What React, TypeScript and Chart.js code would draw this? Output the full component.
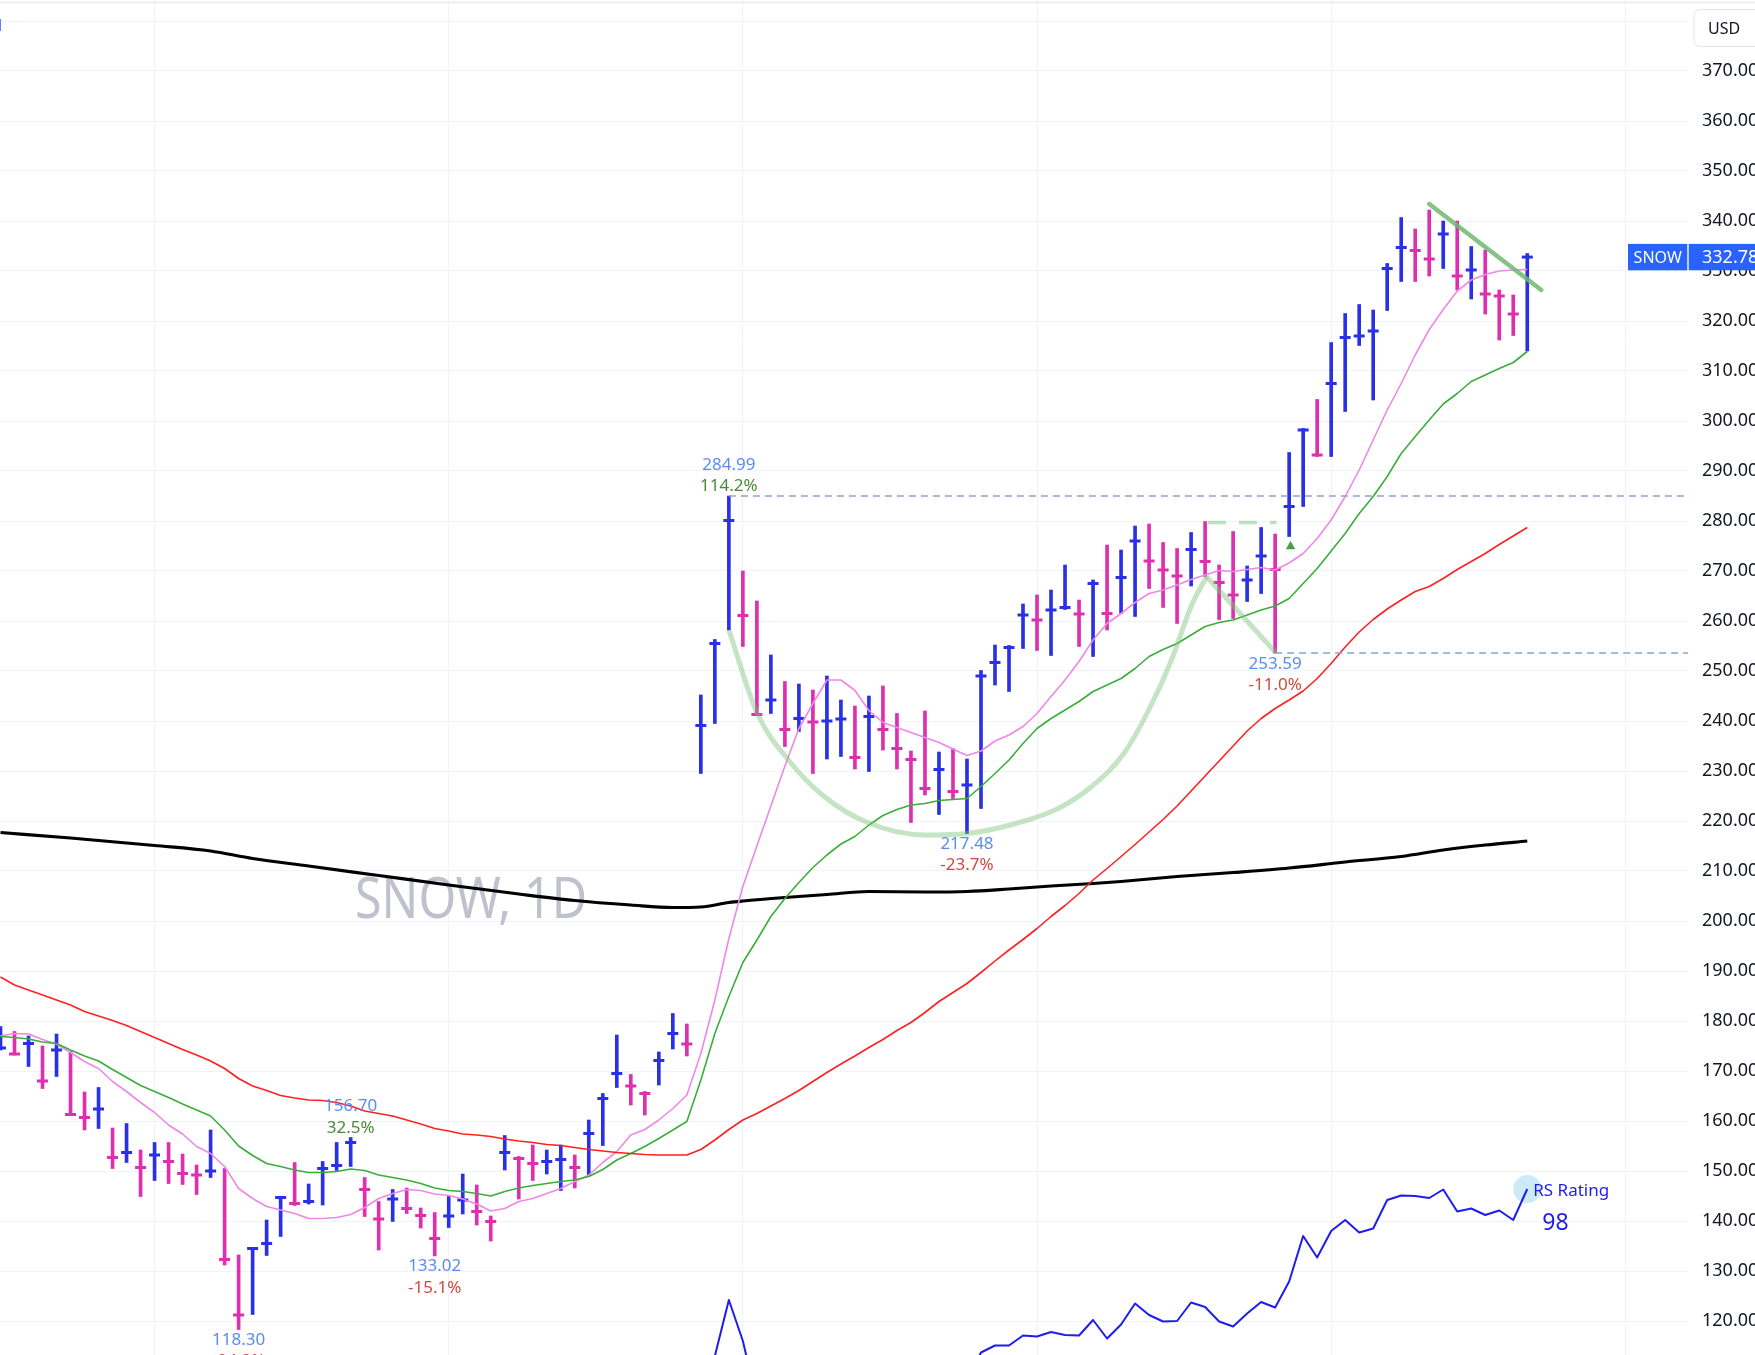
import React, { useEffect, useRef } from 'react';
import { Chart, registerables } from 'chart.js';

Chart.register(...registerables);

// ---------- data (daily bars, index = trading day) ----------
const highs = [
  178.9, 177.9, 177.0, 175.0, 177.4, 173.9, 165.8, 166.7, 158.6, 159.5,
  154.2, 155.7, 155.7, 153.4, 151.2, 158.2, 150.5, 133.2, 134.7, 140.2,
  144.9, 151.7, 147.4, 151.9, 155.7, 156.7, 148.7, 143.9, 146.3, 146.6,
  142.6, 141.7, 144.9, 149.4, 147.2, 141.0, 157.1, 152.9, 155.2, 154.2,
  155.2, 153.2, 160.2, 165.5, 177.2, 169.3, 165.9, 173.8, 181.5, 179.4,
  245.2, 256.3, 284.99, 270.0, 264.0, 253.2, 247.9, 247.4, 246.2, 249.0,
  244.2, 243.0, 245.0, 247.0, 241.5, 234.0, 242.0, 233.8, 234.5, 232.4,
  250.1, 255.2, 255.1, 263.4, 265.2, 266.2, 271.2, 264.2, 268.2, 275.2,
  274.2, 279.0, 279.4, 275.7, 274.5, 277.7, 279.9, 271.2, 277.9, 271.0,
  278.7, 277.4, 293.7, 298.5, 304.3, 315.7, 321.5, 323.3, 322.2, 331.5,
  340.7, 338.4, 342.2, 340.0, 340.0, 334.9, 334.2, 326.2, 325.2, 333.5,
];
const lows = [
  174.2, 173.2, 170.9, 166.5, 168.9, 161.2, 158.2, 158.5, 150.5, 151.7,
  144.9, 148.1, 147.5, 147.3, 145.3, 148.7, 131.2, 118.3, 121.3, 133.1,
  136.9, 143.1, 143.4, 143.2, 150.1, 150.9, 140.9, 134.2, 139.9, 141.5,
  138.6, 133.02, 138.7, 141.4, 139.2, 136.0, 150.2, 144.4, 148.1, 149.4,
  146.1, 146.6, 149.2, 155.1, 166.7, 163.2, 161.2, 167.2, 174.4, 173.0,
  229.5, 239.5, 258.2, 254.9, 241.2, 241.5, 234.9, 237.9, 229.5, 232.4,
  232.9, 230.4, 229.9, 234.2, 230.4, 219.7, 225.2, 221.3, 224.5, 217.48,
  222.5, 247.2, 245.9, 254.5, 254.1, 253.1, 262.3, 254.9, 252.9, 258.2,
  261.5, 260.9, 266.5, 262.7, 259.5, 267.0, 268.9, 260.3, 260.5, 263.9,
  265.5, 253.59, 276.9, 282.9, 292.9, 292.9, 301.9, 315.1, 304.2, 322.1,
  327.9, 327.9, 329.0, 330.5, 326.2, 324.4, 321.4, 316.2, 317.1, 314.0,
];
const closes = [
  174.6, 173.4, 175.5, 168.0, 174.2, 161.3, 160.7, 162.4, 152.7, 153.7,
  150.7, 153.2, 151.9, 149.5, 149.2, 150.0, 132.3, 121.2, 134.5, 135.5,
  144.7, 143.5, 143.9, 150.5, 151.1, 155.7, 146.3, 140.4, 144.4, 142.5,
  141.1, 136.5, 141.0, 144.2, 141.9, 139.9, 153.7, 152.5, 151.5, 151.9,
  152.3, 150.7, 157.5, 164.5, 169.5, 167.0, 165.5, 172.1, 177.5, 175.4,
  239.1, 255.5, 280.1, 261.1, 241.3, 244.2, 238.3, 240.5, 239.8, 240.0,
  240.4, 232.7, 240.9, 238.3, 234.5, 232.3, 226.5, 230.3, 225.9, 227.2,
  249.0, 251.7, 254.7, 261.2, 260.2, 262.2, 262.7, 261.4, 267.5, 261.5,
  268.7, 276.0, 272.0, 270.2, 269.0, 274.3, 271.9, 267.7, 265.2, 268.2,
  273.0, 270.3, 282.9, 298.2, 293.2, 307.5, 316.7, 317.0, 318.0, 330.5,
  334.7, 334.1, 332.4, 337.4, 329.0, 330.2, 325.4, 325.0, 321.4, 332.78,
];
// 10-day MA (pink)
const ma10 = [
  177.0, 177.5, 177.4, 176.3, 175.4, 173.7, 171.9, 170.5, 167.9, 165.9,
  163.7, 161.7, 159.2, 157.4, 154.9, 153.5, 150.9, 146.5, 144.5, 142.9,
  142.2, 141.5, 140.5, 140.5, 140.7, 141.3, 142.7, 144.5, 145.5, 146.3,
  146.1, 145.4, 145.1, 144.4, 143.4, 142.0, 142.5, 143.9, 144.5, 145.5,
  146.5, 147.9, 149.2, 151.7, 153.9, 157.2, 158.3, 160.2, 162.5, 165.2,
  173.5, 184.2, 196.5, 206.9, 215.0, 223.0, 231.0, 238.5, 243.5, 248.2,
  248.2, 246.1, 242.1, 239.7, 238.7, 237.7, 236.7, 235.7, 234.4, 233.1,
  234.0, 236.0, 237.2, 238.9, 241.5, 244.9, 248.2, 251.9, 256.2, 259.5,
  261.5, 263.7, 265.5, 266.2, 267.2, 268.3, 269.2, 270.1, 269.9, 270.3,
  270.7, 270.2, 271.6, 273.5, 276.5, 280.2, 284.9, 290.2, 296.2, 302.2,
  307.5, 313.2, 318.3, 322.3, 326.0, 328.2, 329.3, 330.0, 330.2, 330.3,
];
// 21-day MA (green)
const ma21 = [
  176.9, 176.7, 176.4, 175.8, 175.5, 174.2, 173.0, 172.0, 170.3, 168.7,
  167.1, 165.9, 164.7, 163.4, 162.2, 161.0, 158.2, 155.0, 153.1, 151.5,
  150.9, 150.2, 149.7, 149.7, 149.9, 150.4, 150.1, 149.2, 148.7, 148.2,
  147.5, 146.6, 146.1, 145.9, 145.5, 145.0, 145.9, 146.6, 147.1, 147.5,
  147.9, 148.2, 148.9, 150.3, 152.2, 153.5, 154.9, 156.5, 158.2, 159.9,
  168.2, 177.5, 184.9, 191.7, 196.2, 200.9, 204.5, 207.7, 210.7, 213.2,
  215.4, 216.9, 219.2, 221.1, 222.3, 223.2, 223.5, 224.1, 224.3, 224.5,
  226.9, 229.5, 232.2, 235.5, 238.5, 240.5, 242.2, 243.9, 245.9, 247.2,
  248.5, 250.5, 252.9, 254.3, 255.5, 257.2, 258.9, 259.7, 260.2, 261.2,
  262.2, 263.0, 264.5, 267.5, 270.5, 274.0, 277.5, 281.5, 284.9, 288.9,
  293.5, 296.9, 300.2, 303.4, 305.5, 307.9, 309.2, 310.5, 311.7, 313.9,
];
// 50-day MA (red)
const ma50 = [
  188.8, 187.2, 186.2, 185.2, 184.2, 183.2, 181.9, 181.0, 180.1, 179.1,
  177.9, 176.7, 175.5, 174.3, 173.2, 172.0, 170.5, 168.5, 167.0, 166.1,
  165.1, 164.6, 164.2, 164.1, 163.7, 163.0, 162.0, 161.5, 161.0, 160.2,
  159.4, 158.5, 158.0, 157.4, 157.2, 156.9, 156.4, 156.0, 155.7, 155.3,
  155.1, 154.7, 154.3, 154.0, 153.7, 153.5, 153.3, 153.2, 153.2, 153.2,
  154.3, 156.2, 158.3, 160.2, 161.5, 163.0, 164.5, 166.1, 167.9, 169.7,
  171.4, 173.0, 174.7, 176.3, 178.1, 179.7, 181.7, 183.9, 185.7, 187.5,
  189.7, 192.0, 194.2, 196.3, 198.5, 200.9, 203.1, 205.5, 208.2, 210.5,
  212.9, 215.3, 217.8, 220.3, 223.0, 226.0, 229.0, 232.0, 235.0, 238.0,
  240.5, 242.5, 244.2, 246.0, 248.5, 251.5, 254.8, 257.8, 260.3, 262.4,
  264.2, 265.9, 266.9, 268.5, 270.3, 271.9, 273.5, 275.3, 277.0, 278.7,
];
// 200-day MA (black), read at selected days
const ma200Days = [0, 5, 11, 15, 18, 22, 27, 32, 37, 41, 45, 48, 50, 52, 53, 56, 59, 62, 66, 69, 72, 75, 78, 80, 84, 88, 92, 96, 100, 103, 106, 109];
const ma200 = [217.7, 216.6, 215.1, 214.0, 212.5, 211.0, 209.1, 207.2, 205.4, 204.1, 203.2, 202.7, 202.8, 203.7, 204.0, 204.7, 205.3, 205.9, 205.8, 205.9, 206.4, 207.0, 207.5, 207.9, 208.9, 209.7, 210.6, 211.8, 212.9, 214.2, 215.2, 216.0];
// RS line (plotted on the price pane), null where not visible
const rsLine = [
  null, null, null, null, null, null, null, null, null, null,
  null, null, null, null, null, null, null, null, null, null,
  null, null, null, null, null, null, null, null, null, null,
  null, null, null, null, null, null, null, null, null, null,
  null, null, null, null, null, null, null, null, null, null,
  100.0, 113.0, 124.2, 116.0, 104.0, null, null, null, null, null,
  null, null, null, null, null, null, null, null, null, 108.0,
  113.7, 115.1, 115.1, 117.1, 116.9, 117.8, 117.2, 117.1, 120.2, 116.5,
  119.3, 123.5, 121.2, 119.9, 120.0, 123.7, 122.8, 119.9, 118.9, 121.5,
  123.8, 122.7, 127.9, 137.0, 132.7, 138.0, 140.2, 137.7, 138.5, 144.2,
  145.1, 145.0, 144.6, 146.3, 141.9, 142.5, 141.2, 142.1, 140.2, 146.4,
];
const rsRating = '98';

// pivot labels
const pivotDays = [17, 25, 31, 52, 69, 91];
const pivotPrices = [118.30, 156.70, 133.02, 284.99, 217.48, 253.59];
const pivotPcts = ['-24.3%', '32.5%', '-15.1%', '114.2%', '-23.7%', '-11.0%'];
const pivotIsHigh = [false, true, false, true, false, false];

// drawn pattern: cup, handle, pivot, trend line, levels
const cupDays = [52, 54, 56.4, 58.8, 61.9, 66, 69, 72.1, 75.5, 77.9, 80.2, 82.1, 83.6, 85, 86.1];
const cupPrices = [258.2, 241.7, 231.7, 224.9, 219.7, 217.2, 217.5, 219.2, 222.5, 226.9, 233.5, 242.9, 252.2, 262.9, 268.9];
const handleDays = [86.1, 91.07];
const handlePrices = [268.9, 253.6];
const pivotLineDays = [86.2, 91.1];
const pivotLinePrices = [279.7, 279.7];
const trendDays = [102.0, 110.0];
const trendPrices = [343.4, 326.2];
const levelStartDays = [52, 91];
const levelPrices = [284.99, 253.59];
const buyPointDay = 92.1;
const buyPointPrice = 274.9;

const priceTicks = [120, 130, 140, 150, 160, 170, 180, 190, 200, 210, 220, 230, 240, 250, 260, 270, 280, 290, 300, 310, 320, 330, 340, 350, 360, 370, 380];
const monthGridDays = [11, 32, 53, 74, 95, 116];
const symbol = 'SNOW';
const watermark = 'SNOW, 1D';
const currency = 'USD';

const X_MIN = -0.0357;
const X_MAX = 120.475;
const Y_MIN = 113.2;
const Y_MAX = 384.2;

const BLUE = '#2a30e6';
const MAGENTA = '#de2fae';
const FONT = "'Noto Sans', 'DejaVu Sans', sans-serif";

export default function App() {
  const ref = useRef<HTMLCanvasElement>(null);

  useEffect(() => {
    document.body.style.margin = '0';
    const canvas = ref.current!;
    Chart.defaults.font.family = FONT;
    const days = highs.map((_, i) => i);
    const barColors = closes.map((c, i) => (i === 0 || c >= closes[i - 1] ? BLUE : MAGENTA));
    const series = (arr: any[]) => arr.map((v, i) => ({ x: days[i], y: v }));
    const pairs = (xs: number[], ys: number[]) => xs.map((x, i) => ({ x, y: ys[i] }));

    const overlay = {
      id: 'overlay',
      beforeDatasetsDraw(chart: any) {
        const ctx = chart.ctx;
        ctx.save();
        ctx.font = `56px ${FONT}`;
        ctx.fillStyle = '#bfc2cc';
        ctx.textBaseline = 'alphabetic';
        ctx.textAlign = 'left';
        const w = ctx.measureText(watermark).width;
        ctx.translate(355, 918);
        ctx.scale(232 / w, 1);
        ctx.fillText(watermark, 0, 0);
        ctx.restore();
      },
      afterDatasetsDraw(chart: any) {
        const ctx = chart.ctx;
        const xs = chart.scales.x;
        const ys = chart.scales.y;
        ctx.save();
        ctx.font = `17px ${FONT}`;
        ctx.textAlign = 'center';
        ctx.textBaseline = 'alphabetic';
        pivotDays.forEach((d, i) => {
          const x = xs.getPixelForValue(d);
          const y = ys.getPixelForValue(pivotPrices[i]);
          const py = pivotIsHigh[i] ? y - 26.2 : y + 15.5;
          const pc = pivotIsHigh[i] ? y - 4.8 : y + 36.8;
          ctx.fillStyle = '#5b8def';
          ctx.fillText(pivotPrices[i].toFixed(2), x, py);
          ctx.fillStyle = pivotPcts[i].startsWith('-') ? '#d14a40' : '#4b8a3a';
          ctx.fillText(pivotPcts[i], x, pc);
        });
        // RS rating text
        const last = days.length - 1;
        const rx = xs.getPixelForValue(last);
        const ry = ys.getPixelForValue(rsLine[last] as number);
        ctx.textAlign = 'left';
        ctx.fillStyle = '#1d1df0';
        ctx.font = `17px ${FONT}`;
        ctx.fillText('RS Rating', rx + 6, ry + 7);
        ctx.font = `23px ${FONT}`;
        ctx.fillText(rsRating, rx + 15, ry + 41);
        ctx.restore();
      },
      afterDraw(chart: any) {
        const ctx = chart.ctx;
        const area = chart.chartArea;
        const ys = chart.scales.y;
        ctx.save();
        // top frame line
        ctx.fillStyle = '#eceef2';
        ctx.fillRect(0, 1.5, chart.width, 2);
        // clipped legend glyph top-left
        ctx.font = `17px ${FONT}`;
        ctx.fillStyle = '#2962ff';
        ctx.textAlign = 'left';
        ctx.fillText('M', -13, 31);
        // last price label
        const cy = ys.getPixelForValue(closes[closes.length - 1]);
        const h = 26.4;
        ctx.fillStyle = '#2962ff';
        ctx.fillRect(area.right - 60, cy - h / 2, 59.3, h);
        ctx.fillRect(area.right + 0.7, cy - h / 2, 80, h);
        ctx.fillStyle = '#ffffff';
        ctx.textBaseline = 'middle';
        ctx.font = `16px ${FONT}`;
        ctx.textAlign = 'center';
        ctx.fillText(symbol, area.right - 30.3, cy + 1);
        ctx.font = `18px ${FONT}`;
        ctx.textAlign = 'left';
        ctx.fillText(closes[closes.length - 1].toFixed(2), area.right + 14, cy + 1);
        // currency box
        const bx = area.right + 6;
        const by = 9.5;
        const bw = 80;
        const bh = 37;
        const r = 6;
        ctx.beginPath();
        ctx.moveTo(bx + r, by);
        ctx.lineTo(bx + bw, by);
        ctx.lineTo(bx + bw, by + bh);
        ctx.lineTo(bx + r, by + bh);
        ctx.arcTo(bx, by + bh, bx, by + bh - r, r);
        ctx.lineTo(bx, by + r);
        ctx.arcTo(bx, by, bx + r, by, r);
        ctx.closePath();
        ctx.fillStyle = '#ffffff';
        ctx.fill();
        ctx.strokeStyle = '#e0e3eb';
        ctx.lineWidth = 1;
        ctx.stroke();
        ctx.fillStyle = '#131722';
        ctx.font = `16px ${FONT}`;
        ctx.textBaseline = 'alphabetic';
        ctx.fillText(currency, bx + 14, 34);
        ctx.restore();
      },
    };

    const lineDefaults = { pointRadius: 0, pointHoverRadius: 0, fill: false, borderJoinStyle: 'round' as const };

    const chart = new Chart(canvas, {
      type: 'line',
      data: {
        datasets: [
          {
            type: 'bar',
            label: 'range',
            data: days.map((d) => ({ x: d, y: [lows[d], highs[d]] })) as any,
            backgroundColor: barColors,
            borderWidth: 0,
            barThickness: 3,
            grouped: false,
            order: 10,
          } as any,
          {
            label: 'close',
            data: series(closes),
            showLine: false,
            pointStyle: 'line',
            pointRadius: 5.5,
            pointHoverRadius: 5.5,
            pointBorderWidth: 3,
            pointBorderColor: barColors,
            borderColor: barColors,
            order: 9,
          },
          { label: 'MA200', data: pairs(ma200Days, ma200), borderColor: '#000000', borderWidth: 3.2, cubicInterpolationMode: 'monotone', ...lineDefaults, order: 5 },
          { label: 'MA50', data: series(ma50), borderColor: '#ff2020', borderWidth: 1.6, ...lineDefaults, order: 4 },
          { label: 'MA21', data: series(ma21), borderColor: '#3aae3a', borderWidth: 1.6, ...lineDefaults, order: 4 },
          { label: 'MA10', data: series(ma10), borderColor: '#ee88e8', borderWidth: 1.6, ...lineDefaults, order: 4 },
          {
            label: 'rsDot',
            data: [{ x: days[days.length - 1], y: rsLine[rsLine.length - 1] }],
            showLine: false,
            pointRadius: 14,
            pointHoverRadius: 14,
            pointBackgroundColor: 'rgba(140, 210, 240, 0.45)',
            pointBorderWidth: 0,
            order: 3,
          },
          { label: 'RS', data: series(rsLine), borderColor: '#1d1df0', borderWidth: 2, spanGaps: false, ...lineDefaults, order: 2 },
          { label: 'cup', data: pairs(cupDays, cupPrices), borderColor: 'rgba(125, 195, 125, 0.45)', borderWidth: 5, cubicInterpolationMode: 'monotone', ...lineDefaults, order: 1 },
          { label: 'handle', data: pairs(handleDays, handlePrices), borderColor: 'rgba(125, 195, 125, 0.45)', borderWidth: 5, ...lineDefaults, order: 1 },
          { label: 'pivot', data: pairs(pivotLineDays, pivotLinePrices), borderColor: 'rgba(125, 195, 125, 0.5)', borderWidth: 3.5, borderDash: [18, 13], ...lineDefaults, order: 1 },
          { label: 'trend', data: pairs(trendDays, trendPrices), borderColor: 'rgba(110, 185, 110, 0.85)', borderWidth: 4.5, borderCapStyle: 'round', ...lineDefaults, order: 1 },
          ...levelPrices.map((p, i) => ({
            label: 'level' + i,
            data: pairs([levelStartDays[i], X_MAX], [p, p]),
            borderColor: '#8fa3c8',
            borderWidth: 1.4,
            borderDash: [7, 5],
            ...lineDefaults,
            order: 1,
          })),
          {
            label: 'buy',
            data: [{ x: buyPointDay, y: buyPointPrice }],
            showLine: false,
            pointStyle: 'triangle',
            pointRadius: 5.5,
            pointHoverRadius: 5.5,
            pointBackgroundColor: '#43a047',
            pointBorderColor: '#43a047',
            pointBorderWidth: 0,
            order: 0,
          },
        ] as any,
      },
      options: {
        animation: false,
        responsive: false,
        devicePixelRatio: 1,
        events: [],
        layout: { padding: 0, autoPadding: false },
        plugins: { legend: { display: false }, tooltip: { enabled: false }, title: { display: false } },
        scales: {
          x: {
            type: 'linear',
            min: X_MIN,
            max: X_MAX,
            offset: false,
            grid: { color: '#f0f3fa', drawTicks: false, offset: false, lineWidth: 1 },
            border: { display: false },
            ticks: { display: false },
            afterBuildTicks: (s: any) => {
              s.ticks = monthGridDays.map((v) => ({ value: v }));
            },
            afterFit: (s: any) => {
              s.height = 0;
              s.paddingLeft = 0;
              s.paddingRight = 0;
              s.paddingTop = 0;
              s.paddingBottom = 0;
            },
          },
          y: {
            type: 'linear',
            position: 'right',
            min: Y_MIN,
            max: Y_MAX,
            grid: { color: '#f0f3fa', drawTicks: false, lineWidth: 1 },
            border: { display: false },
            afterBuildTicks: (s: any) => {
              s.ticks = priceTicks.map((v) => ({ value: v }));
            },
            ticks: {
              padding: 14,
              color: '#131722',
              font: { family: FONT, size: 18 },
              callback: (v: any) => Number(v).toFixed(2),
            },
            afterFit: (s: any) => {
              s.width = 67;
              s.paddingTop = 0;
              s.paddingBottom = 0;
            },
          },
        },
      } as any,
      plugins: [overlay],
    });
    return () => chart.destroy();
  }, []);

  return (
    <canvas
      ref={ref}
      width={1755}
      height={1355}
      style={{ display: 'block', width: '1755px', height: '1355px', background: '#ffffff' }}
    />
  );
}
